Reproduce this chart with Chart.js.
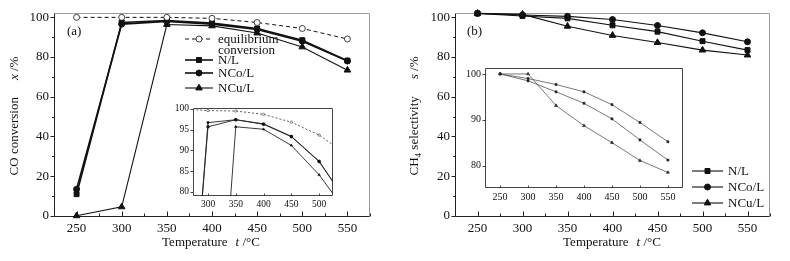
<!DOCTYPE html>
<html>
<head>
<meta charset="utf-8">
<script src="https://cdn.jsdelivr.net/npm/chart.js@4.4.1/dist/chart.umd.min.js"></script>
<style>
  body { margin: 0; background: #fff; }
  #wrap { position: relative; width: 790px; height: 261px; }
  .box { position: absolute; }
</style>
</head>
<body>
<div id="wrap">
  <div class="box" style="left:0;top:0;width:395px;height:261px"><canvas id="convMain"></canvas></div>
  <div class="box" style="left:395px;top:0;width:395px;height:261px"><canvas id="selMain"></canvas></div>
  <div class="box" style="left:165px;top:98px;width:175px;height:115px"><canvas id="convInset"></canvas></div>
  <div class="box" style="left:462px;top:58px;width:228px;height:148px"><canvas id="selInset"></canvas></div>
</div>
<script>
// temperatures, t /°C
const temps = [250, 300, 350, 400, 450, 500, 550];

// (a) CO conversion x /%, main panel
const convEquil = [100, 100, 100, 99.5, 97.4, 94.4, 89.1];
const convNL    = [10.9, 97.4, 98.4, 97.1, 94.4, 88.5, 78.2];
const convNCo   = [13.4, 96.6, 98.0, 96.6, 93.9, 88.0, 78.0];
const convNCu   = [0, 4.5, 96.4, 95.7, 92.1, 85.1, 73.4];
// (a) zoomed inset
const convEquilIn = [100, 99.6, 99.5, 98.7, 96.8, 93.7, 89.0];
const convNLIn    = [10.9, 96.7, 97.4, 96.4, 93.4, 87.4, 77.5];
const convNCoIn   = [13.4, 95.7, 97.4, 96.3, 93.3, 87.3, 77.5];
const convNCuIn   = [0, 4.5, 95.7, 95.1, 91.2, 84.1, 75.0];

// (b) CH4 selectivity s /%, main panel
const selNL  = [102, 100.7, 99.5, 96.0, 92.8, 88.0, 83.5];
const selNCo = [102, 101.2, 100.5, 98.9, 95.9, 92.2, 87.7];
const selNCu = [102, 101.5, 95.5, 90.9, 87.3, 83.5, 81.0];
// (b) zoomed inset
const selNLIn  = [100, 98.5, 96.1, 93.6, 90.2, 85.6, 81.2];
const selNCoIn = [100, 99.0, 97.7, 96.1, 93.3, 89.4, 85.2];
const selNCuIn = [100, 100, 93.1, 88.7, 85.0, 81.1, 78.5];

// tick labels
const mainXTicks = [250, 300, 350, 400, 450, 500, 550];
const mainYTicks = [0, 20, 40, 60, 80, 100];
const convInXTicks = [300, 350, 400, 450, 500];
const convInYTicks = [80, 85, 90, 95, 100];
const selInXTicks = [250, 300, 350, 400, 450, 500, 550];
const selInYTicks = [80, 90, 100];

const FONT = '"Liberation Serif", "Times New Roman", serif';
const INK = '#111';

function line(ctx, x0, y0, x1, y1) {
  ctx.beginPath(); ctx.moveTo(x0, y0); ctx.lineTo(x1, y1); ctx.stroke();
}

function marker(ctx, style, r, x, y) {
  ctx.beginPath();
  if (style === 'rect') {
    const s = Math.SQRT1_2 * r;
    ctx.rect(x - s, y - s, 2 * s, 2 * s);
  } else if (style === 'triangle') {
    let a = 0;
    ctx.moveTo(x + Math.sin(a) * r, y - Math.cos(a) * r);
    a += Math.PI * 2 / 3;
    ctx.lineTo(x + Math.sin(a) * r, y - Math.cos(a) * r);
    a += Math.PI * 2 / 3;
    ctx.lineTo(x + Math.sin(a) * r, y - Math.cos(a) * r);
    ctx.closePath();
  } else {
    ctx.arc(x, y, r, 0, Math.PI * 2);
  }
  ctx.fill();
  ctx.stroke();
}

// text made of parts (italic / subscript), centred or left aligned, optionally rotated
function drawText(ctx, t) {
  const size = t.size || 13;
  ctx.save();
  ctx.translate(t.x, t.y);
  if (t.rot) ctx.rotate(-Math.PI / 2);
  const fonts = t.parts.map(p => (p.it ? 'italic ' : '') + (p.sub ? size * 0.7 : size) + 'px ' + FONT);
  let w = 0;
  const ws = t.parts.map((p, i) => {
    ctx.font = fonts[i];
    const m = ctx.measureText(p.t).width + (p.gap || 0);
    w += m;
    return m;
  });
  let cx = t.align === 'left' ? 0 : -w / 2;
  ctx.textBaseline = 'middle';
  ctx.textAlign = 'left';
  ctx.fillStyle = INK;
  t.parts.forEach((p, i) => {
    ctx.font = fonts[i];
    ctx.fillText(p.t, cx + (p.gap || 0), p.sub ? size * 0.3 : 0);
    cx += ws[i];
  });
  ctx.restore();
}

const decor = {
  id: 'decor',
  beforeDatasetsDraw(chart, args, o) {
    const ctx = chart.ctx, a = chart.chartArea, sx = chart.scales.x, sy = chart.scales.y;
    const L = Math.round(a.left) + 0.5, R = Math.round(a.right) - 0.5;
    const T = Math.round(a.top) + 0.5, B = Math.round(a.bottom) - 0.5;
    ctx.save();
    ctx.lineWidth = 1;
    ctx.strokeStyle = o.boxColor;
    line(ctx, L, T, R, T);
    line(ctx, R, T, R, B);
    ctx.strokeStyle = o.axisColor;
    line(ctx, L, T, L, B);
    line(ctx, L, B, R, B);
    const tx = o.xTicks, ty = o.yTicks;
    for (let v = Math.ceil(sx.min / tx.step) * tx.step; v <= sx.max; v += tx.step) {
      const p = Math.round(sx.getPixelForValue(v)) + 0.5;
      line(ctx, p, B, p, B - (v % tx.major === 0 ? tx.len : tx.len * 0.6));
    }
    for (let v = Math.ceil(sy.min / ty.step) * ty.step; v <= sy.max; v += ty.step) {
      const p = Math.round(sy.getPixelForValue(v)) + 0.5;
      line(ctx, L, p, L - (v % ty.major === 0 ? ty.len : ty.len * 0.6), p);
    }
    ctx.restore();
  },
  afterDraw(chart, args, o) {
    const ctx = chart.ctx;
    (o.legend || []).forEach(it => {
      const ds = chart.data.datasets[it.ds];
      ctx.save();
      ctx.strokeStyle = ds.borderColor;
      ctx.lineWidth = ds.borderWidth;
      ctx.setLineDash(ds.borderDash || []);
      line(ctx, it.x0, it.y, it.x1, it.y);
      ctx.setLineDash([]);
      ctx.fillStyle = ds.pointBackgroundColor;
      ctx.strokeStyle = ds.pointBorderColor;
      ctx.lineWidth = ds.pointBorderWidth;
      marker(ctx, ds.pointStyle, ds.pointRadius, (it.x0 + it.x1) / 2, it.y);
      ctx.restore();
      it.text.forEach((s, k) => drawText(ctx, { parts: [{ t: s }], x: it.x1 + 5, y: it.y + 1 + k * 10.5, align: 'left', size: 13 }));
    });
    (o.texts || []).forEach(t => drawText(ctx, t));
  }
};

function series(label, vals, style) {
  return Object.assign({
    label,
    data: temps.map((t, i) => ({ x: t, y: vals[i] })),
    fill: false,
    tension: 0,
    borderColor: INK,
    pointBackgroundColor: INK,
    pointBorderColor: INK,
    pointBorderWidth: 1
  }, style);
}

function makeChart(id, W, H, box, xr, yr, xt, yt, fontSize, datasets, decorOpts) {
  return new Chart(document.getElementById(id), {
    type: 'line',
    data: { datasets },
    plugins: [decor],
    options: {
      responsive: true,
      maintainAspectRatio: false,
      animation: false,
      events: [],
      layout: { padding: { top: box.top, right: W - box.right, left: 0, bottom: 0 } },
      scales: {
        x: {
          type: 'linear', min: xr[0], max: xr[1],
          afterBuildTicks: s => { s.ticks = xt.map(v => ({ value: v })); },
          afterFit: s => { s.height = H - box.bottom; },
          grid: { display: false, drawTicks: false },
          border: { display: false },
          ticks: { padding: fontSize > 11 ? 4 : 3, color: INK, font: { family: FONT, size: fontSize }, maxRotation: 0, autoSkip: false }
        },
        y: {
          type: 'linear', min: yr[0], max: yr[1],
          afterBuildTicks: s => { s.ticks = yt.map(v => ({ value: v })); },
          afterFit: s => { s.width = box.left; },
          grid: { display: false, drawTicks: false },
          border: { display: false },
          ticks: { padding: fontSize > 11 ? 5 : 4, color: INK, font: { family: FONT, size: fontSize }, autoSkip: false }
        }
      },
      plugins: { legend: { display: false }, tooltip: { enabled: false }, decor: decorOpts }
    }
  });
}

const mainTicks = {
  xTicks: { step: 25, major: 50, len: 5 },
  yTicks: { step: 10, major: 20, len: 4 },
  boxColor: '#9a9a9a', axisColor: '#222'
};
const sq = { pointStyle: 'rect', pointRadius: 3.5 };
const ci = { pointStyle: 'circle', pointRadius: 3 };
const tr = { pointStyle: 'triangle', pointRadius: 3.8 };

// (a) main
makeChart('convMain', 395, 261, { left: 54, top: 10, right: 370, bottom: 217 },
  [225, 575], [-0.6, 102.3], mainXTicks, mainYTicks, 13, [
    series('equilibrium conversion', convEquil, { borderWidth: 1, borderDash: [4, 3], pointStyle: 'circle', pointRadius: 3, pointBackgroundColor: '#fff', pointBorderWidth: 0.8, clip: false }),
    series('N/L', convNL, Object.assign({ borderWidth: 1.6, clip: false }, sq)),
    series('NCo/L', convNCo, Object.assign({ borderWidth: 1.6, clip: false }, ci)),
    series('NCu/L', convNCu, Object.assign({ borderWidth: 1.1, clip: false }, tr))
  ], Object.assign({
    legend: [
      { ds: 0, x0: 185, x1: 213, y: 39, text: ['equilibrium', 'conversion'] },
      { ds: 1, x0: 185, x1: 213, y: 60, text: ['N/L'] },
      { ds: 2, x0: 185, x1: 213, y: 73, text: ['NCo/L'] },
      { ds: 3, x0: 185, x1: 213, y: 88, text: ['NCu/L'] }
    ],
    texts: [
      { parts: [{ t: '(a)' }], x: 67, y: 32, align: 'left' },
      { parts: [{ t: 'Temperature' }, { t: 't', it: true, gap: 8 }, { t: ' /°C' }], x: 211, y: 243 },
      { parts: [{ t: 'CO conversion' }, { t: 'x', it: true, gap: 17 }, { t: ' /%' }], x: 15, y: 116, rot: true }
    ]
  }, mainTicks));

// (a) inset
const thin = { borderWidth: 0.9, borderColor: '#222', pointRadius: 1.4, pointBorderWidth: 0.6 };
makeChart('convInset', 175, 115, { left: 28, top: 7, right: 168, bottom: 98 },
  [273, 525], [79, 100.3], convInXTicks, convInYTicks, 9.5, [
    series('equilibrium conversion', convEquilIn, { borderWidth: 0.8, borderColor: '#333', borderDash: [2, 2], pointStyle: 'circle', pointRadius: 1.2, pointBackgroundColor: '#fff', pointBorderColor: '#333', pointBorderWidth: 0.6 }),
    series('N/L', convNLIn, Object.assign({ pointStyle: 'rect' }, thin)),
    series('NCo/L', convNCoIn, Object.assign({ pointStyle: 'circle' }, thin)),
    series('NCu/L', convNCuIn, Object.assign({ pointStyle: 'triangle' }, thin))
  ], {
    xTicks: { step: 50, major: 50, len: 2 },
    yTicks: { step: 5, major: 5, len: 3 },
    boxColor: '#444', axisColor: '#444'
  });

// (b) main
makeChart('selMain', 395, 261, { left: 60, top: 10, right: 375, bottom: 217 },
  [225, 575], [-0.6, 102.3], mainXTicks, mainYTicks, 13, [
    series('N/L', selNL, Object.assign({ borderWidth: 1.1, clip: false }, sq)),
    series('NCo/L', selNCo, Object.assign({ borderWidth: 1.1, clip: false }, ci)),
    series('NCu/L', selNCu, Object.assign({ borderWidth: 1.1, clip: false }, tr))
  ], Object.assign({
    legend: [
      { ds: 0, x0: 297, x1: 328, y: 171, text: ['N/L'] },
      { ds: 1, x0: 297, x1: 328, y: 187, text: ['NCo/L'] },
      { ds: 2, x0: 297, x1: 328, y: 203, text: ['NCu/L'] }
    ],
    texts: [
      { parts: [{ t: '(b)' }], x: 72, y: 32, align: 'left' },
      { parts: [{ t: 'Temperature' }, { t: 't', it: true, gap: 8 }, { t: ' /°C' }], x: 217, y: 243 },
      { parts: [{ t: 'CH' }, { t: '4', sub: true }, { t: ' selectivity' }, { t: 's', it: true, gap: 17 }, { t: ' /%' }], x: 20, y: 116, rot: true }
    ]
  }, mainTicks));

// (b) inset
const thinB = { borderWidth: 0.8, borderColor: '#555', pointBackgroundColor: '#222', pointBorderColor: '#222', pointRadius: 1.5, pointBorderWidth: 0.5 };
makeChart('selInset', 228, 148, { left: 23, top: 7, right: 221, bottom: 130 },
  [223, 577], [75.1, 101.3], selInXTicks, selInYTicks, 10, [
    series('N/L', selNLIn, Object.assign({ pointStyle: 'rect' }, thinB)),
    series('NCo/L', selNCoIn, Object.assign({ pointStyle: 'rect' }, thinB)),
    series('NCu/L', selNCuIn, Object.assign({ pointStyle: 'triangle' }, thinB, { pointRadius: 1.8 }))
  ], {
    xTicks: { step: 50, major: 50, len: 2 },
    yTicks: { step: 10, major: 10, len: 3 },
    boxColor: '#444', axisColor: '#444'
  });
</script>
</body>
</html>
